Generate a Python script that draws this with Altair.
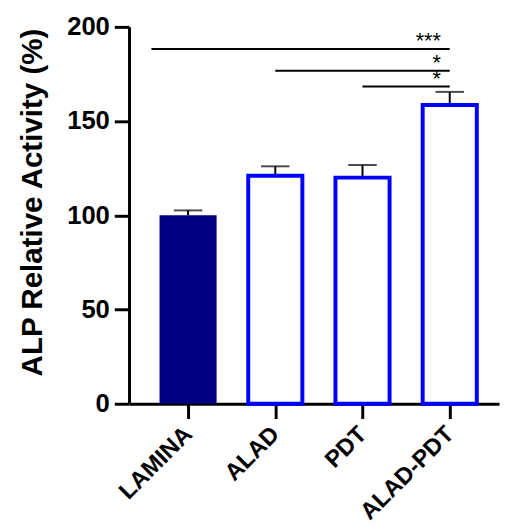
import altair as alt
import pandas as pd

groups = ["LAMINA", "ALAD", "PDT", "ALAD-PDT"]
means = [100, 121, 120, 158.5]
errors = [2.6, 5, 6.7, 7]
filled = [True, False, False, False]
sig_start = [-0.42, 1, 2]
sig_end = [3, 3, 3]
sig_y = [188.2, 176.7, 168.3]
sig_text = ["***", "*", "*"]
y_ticks = [0, 50, 100, 150, 200]

df = pd.DataFrame({"idx": list(range(len(groups))), "group": groups,
                   "mean": means, "err": errors, "filled": filled})
df["top"] = df["mean"] + df["err"]
sig = pd.DataFrame({"x1": sig_start, "x2": sig_end, "y": sig_y, "label": sig_text})

FONT = "Liberation Sans"
xscale = alt.Scale(domain=[-0.677, 3.565], nice=False, zero=False, padding=0)
yscale = alt.Scale(domain=[0, 200], nice=False, padding=0)
label_expr = "[" + ",".join("'" + g + "'" for g in groups) + "][datum.value]"

xaxis = alt.Axis(values=list(range(len(groups))), labelExpr=label_expr, labelAngle=-45,
                 labelFont=FONT, labelFontSize=24, labelFontWeight="bold", labelColor="black",
                 labelAlign="right", labelBaseline="middle", labelPadding=12,
                 labelOverlap=False, labelBound=False, labelFlush=False,
                 tickSize=15, tickWidth=3, tickColor="black",
                 domainWidth=3, domainColor="black", grid=False, title=None)
yaxis = alt.Axis(values=y_ticks, labelFont=FONT, labelFontSize=26, labelFontWeight="bold",
                 labelColor="black", labelPadding=5, labelOverlap=False,
                 tickSize=15, tickWidth=3,
                 tickColor="black", domainWidth=3, domainColor="black", grid=False,
                 title="ALP Relative Activity (%)", titleFont=FONT, titleFontSize=30,
                 titleFontWeight="bold", titleColor="black", titleX=-98, titleY=178,
                 titleAlign="center", titleBaseline="middle", titleAngle=270)


def X(field):
    return alt.X(field, scale=xscale, axis=xaxis)


def Y(field):
    return alt.Y(field, scale=yscale, axis=yaxis)


base = alt.Chart(df)

stems = base.mark_rule(color="black", strokeWidth=2).encode(
    x=X("idx:Q"), y=Y("mean:Q"), y2="top:Q")
caps = base.mark_tick(orient="horizontal", size=29, thickness=2, color="black").encode(
    x=X("idx:Q"), y=Y("top:Q"))
bar_fill = base.transform_filter("datum.filled").mark_bar(
    orient="vertical", size=58, color="#000080").encode(
    x=X("idx:Q"), y=Y("mean:Q"))
bar_open = base.transform_filter("!datum.filled").mark_bar(
    orient="vertical", size=55, fill="white", stroke="#0000FF", strokeWidth=4).encode(
    x=X("idx:Q"), y=Y("mean:Q"))

sbase = alt.Chart(sig)
sig_lines = sbase.mark_rule(color="black", strokeWidth=2).encode(
    x=X("x1:Q"), x2="x2:Q", y=Y("y:Q"))
sig_labels = sbase.mark_text(align="right", baseline="alphabetic", dx=-9, dy=-1,
                             font=FONT, fontSize=22, color="black").encode(
    x=X("x2:Q"), y=Y("y:Q"), text="label:N")

chart = alt.layer(stems, caps, bar_fill, bar_open, sig_lines, sig_labels).properties(
    width=376, height=383,
    autosize=alt.AutoSizeParams(type="none"),
    padding={"left": 123, "top": 15, "right": 1, "bottom": 116},
    background="white",
).configure_view(stroke=None)

chart.save("out.html", embed_options={"renderer": "svg", "actions": False})
